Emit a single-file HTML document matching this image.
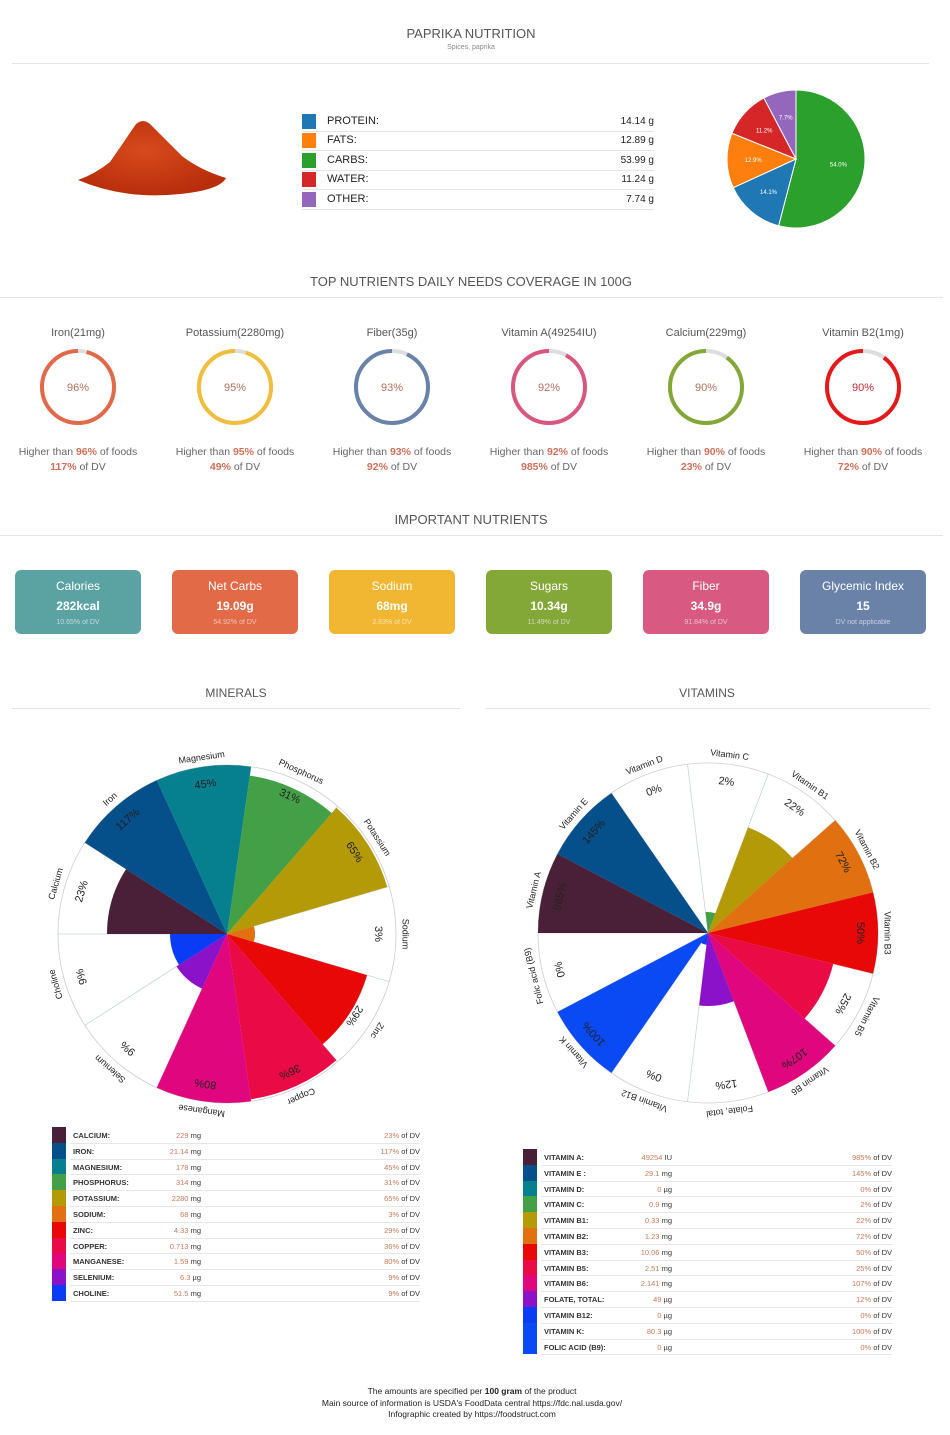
<!DOCTYPE html>
<html><head><meta charset="utf-8"><style>
body{margin:0;width:950px;height:1435px;background:#fff;font-family:"Liberation Sans",sans-serif;position:relative;overflow:hidden;color:#444}
.a{position:absolute}
.c{position:absolute;transform:translateX(-50%);white-space:nowrap;text-align:center}
.hl{position:absolute;height:1px;background:#e4e4e4}
.box{position:absolute;width:126px;height:64px;border-radius:6px;color:#fff;text-align:center;top:570px}
.box .t{font-size:12px;margin-top:9px}
.box .v{font-size:12px;margin-top:6px;font-weight:bold}
.box .s{font-size:7px;margin-top:6px;opacity:.6}
.tb{position:absolute;font-size:7.5px;color:#333;white-space:nowrap}
.tb .r{position:absolute;height:15.8px;border-bottom:1px solid #e6e6e6}
.tb .sw{position:absolute;width:14px;height:15.8px}
.tb .n{position:absolute;top:4px;font-weight:bold;white-space:nowrap}
.tb .q{position:absolute;top:4px;text-align:right;white-space:nowrap}
.o{color:#c87a5a}
</style></head><body>
<div class="c" style="left:471px;top:26px;font-size:13px;color:#555">PAPRIKA NUTRITION</div>
<div class="c" style="left:471px;top:44px;font-size:7px;color:#888">Spices, paprika</div>
<div class="hl" style="left:12px;top:63px;width:917px"></div>
<svg class="a" style="left:70px;top:110px" width="170" height="100">
<defs><radialGradient id="pg" cx="0.45" cy="0.4" r="0.6"><stop offset="0" stop-color="#d84a1c"/><stop offset="1" stop-color="#b82e0c"/></radialGradient></defs>
<path d="M8 70 Q25 64 40 52 L66 14 Q73 8 80 14 L112 46 Q130 60 156 68 Q150 80 110 84 Q55 90 8 70Z" fill="url(#pg)"/>
</svg>
<div id="macro"></div>
<svg class="a" style="left:720px;top:83px" width="152" height="152" id="pie"></svg>
<div class="c" style="left:471px;top:274px;font-size:13px;color:#555">TOP NUTRIENTS DAILY NEEDS COVERAGE IN 100G</div>
<div class="hl" style="left:0;top:297px;width:943px"></div>
<div id="rings"></div>
<div class="c" style="left:471px;top:512px;font-size:13px;color:#555">IMPORTANT NUTRIENTS</div>
<div class="hl" style="left:0;top:535px;width:943px"></div>
<div class="box" style="left:15px;background:#5ba3a3"><div class="t">Calories</div><div class="v">282kcal</div><div class="s">10.65% of DV</div></div>
<div class="box" style="left:172px;background:#e36a47"><div class="t">Net Carbs</div><div class="v">19.09g</div><div class="s">54.92% of DV</div></div>
<div class="box" style="left:329px;background:#f2b732"><div class="t">Sodium</div><div class="v">68mg</div><div class="s">2.83% of DV</div></div>
<div class="box" style="left:486px;background:#84a838"><div class="t">Sugars</div><div class="v">10.34g</div><div class="s">11.49% of DV</div></div>
<div class="box" style="left:643px;background:#d85a82"><div class="t">Fiber</div><div class="v">34.9g</div><div class="s">91.84% of DV</div></div>
<div class="box" style="left:800px;background:#6a82a8"><div class="t">Glycemic Index</div><div class="v">15</div><div class="s">DV not applicable</div></div>
<div class="c" style="left:236px;top:686px;font-size:12px;color:#555">MINERALS</div>
<div class="hl" style="left:12px;top:708px;width:448px"></div>
<div class="c" style="left:707px;top:686px;font-size:12px;color:#555">VITAMINS</div>
<div class="hl" style="left:485px;top:708px;width:445px"></div>
<svg class="a" style="left:0;top:720px" width="950" height="410" id="polar"></svg>
<div id="tabs"></div>
<div class="c" style="left:472px;top:1386px;font-size:8.5px;color:#222;line-height:11.5px">The amounts are specified per <b>100 gram</b> of the product<br>Main source of information is USDA's FoodData central https://fdc.nal.usda.gov/<br>Infographic created by https://foodstruct.com</div>
<script>
var h='';
[['PROTEIN:','14.14 g','#1f77b4'],['FATS:','12.89 g','#ff7f0e'],['CARBS:','53.99 g','#2ca02c'],['WATER:','11.24 g','#d62728'],['OTHER:','7.74 g','#9467bd']].forEach(function(r,i){
var y=114+i*19.4;
h+='<div class="a" style="left:302px;top:'+y+'px;width:14px;height:15px;background:'+r[2]+'"></div>';
h+='<div class="a" style="left:327px;top:'+(y+1)+'px;font-size:11px;color:#222">'+r[0]+'</div>';
h+='<div class="a" style="left:560px;width:94px;text-align:right;top:'+(y+2)+'px;font-size:10px;color:#222">'+r[1]+'</div>';
h+='<div class="hl" style="left:302px;top:'+(y+17)+'px;width:352px"></div>';});
document.getElementById('macro').innerHTML=h;
var p='',a0=0,cx=76,cy=76,R=69;
[[54.0,'#2ca02c'],[14.1,'#1f77b4'],[12.9,'#ff7f0e'],[11.2,'#d62728'],[7.7,'#9467bd']].forEach(function(s){
var a1=a0+s[0]/99.9*360;function pt(a,r){a=(a-90)*Math.PI/180;return [cx+r*Math.cos(a),cy+r*Math.sin(a)]}
var A=pt(a0,R),B=pt(a1,R),M=pt((a0+a1)/2,R*0.62);
p+='<path d="M'+cx+' '+cy+'L'+A+'A'+R+' '+R+' 0 '+((a1-a0)>180?1:0)+' 1 '+B+'Z" fill="'+s[1]+'" stroke="#fff" stroke-width="1"/>';
p+='<text x="'+M[0]+'" y="'+(M[1]+2)+'" font-size="6" fill="#fff" text-anchor="middle">'+s[0].toFixed(1)+'%</text>';a0=a1;});
document.getElementById('pie').innerHTML=p;
h='';
[['Iron(21mg)',96,'117%','#e06a4a'],['Potassium(2280mg)',95,'49%','#f0be3c'],['Fiber(35g)',93,'92%','#6a82a8'],['Vitamin A(49254IU)',92,'985%','#d9577f'],['Calcium(229mg)',90,'23%','#84a838'],['Vitamin B2(1mg)',90,'72%','#e31a1a']].forEach(function(r,i){
var x=78+i*157,C=2*Math.PI*36;
h+='<div class="c" style="left:'+x+'px;top:327px;font-size:11px;color:#555">'+r[0]+'</div>';
h+='<svg class="a" style="left:'+(x-40)+'px;top:347px" width="80" height="80"><circle cx="40" cy="40" r="36" fill="none" stroke="#ddd" stroke-width="4"/><circle cx="40" cy="40" r="36" fill="none" stroke="'+r[3]+'" stroke-width="4" stroke-dasharray="'+(C*r[1]/100)+' '+C+'" transform="rotate(-90 40 40) scale(1 -1) translate(0 -80)"/><text x="40" y="44" text-anchor="middle" font-size="11" fill="'+(i==5?'#c23':'#b0705a')+'">'+r[1]+'%</text></svg>';
h+='<div class="c" style="left:'+x+'px;top:446px;font-size:10.5px;color:#666">Higher than <b style="color:#d0705a">'+r[1]+'%</b> of foods</div>';
h+='<div class="c" style="left:'+x+'px;top:461px;font-size:10.5px;color:#666"><b style="color:#d0705a">'+r[2]+'</b> of DV</div>';});
document.getElementById('rings').innerHTML=h;
var s='';
function polar(cx,cy,R,start,items){
var n=items.length,st=360/n;
s+='<circle cx="'+cx+'" cy="'+cy+'" r="'+R+'" fill="none" stroke="#ccc" stroke-width="0.8"/>';
items.forEach(function(it,i){var a0=start-i*st;
function pt(a,r){a=a*Math.PI/180;return [cx+r*Math.cos(a),cy-r*Math.sin(a)]}
var E=pt(a0,R);s+='<line x1="'+cx+'" y1="'+cy+'" x2="'+E[0]+'" y2="'+E[1]+'" stroke="#c8d4d4" stroke-width="0.8"/>';});
items.forEach(function(it,i){var a0=start-i*st,a1=a0-st,r=it[2];
function pt(a,r){a=a*Math.PI/180;return [cx+r*Math.cos(a),cy-r*Math.sin(a)]}
if(r>0){var A=pt(a0,r),B=pt(a1,r);s+='<path d="M'+cx+' '+cy+'L'+A+'A'+r+' '+r+' 0 0 1 '+B+'Z" fill="'+it[3]+'"/>';}
var m=(a0+a1)/2,rot=90-m,L=pt(m,R+9),P=pt(m,R-18);
s+='<text x="'+L[0]+'" y="'+L[1]+'" font-size="9" fill="#222" text-anchor="middle" dominant-baseline="middle" transform="rotate('+rot+' '+L[0]+' '+L[1]+')">'+it[0]+'</text>';
s+='<text x="'+P[0]+'" y="'+P[1]+'" font-size="11" fill="#222" text-anchor="middle" dominant-baseline="middle" transform="rotate('+rot+' '+P[0]+' '+P[1]+')">'+it[1]+'</text>';});}
polar(227,214,169,180,[['Calcium','23%',120,'#4a2038'],['Iron','117%',169,'#054f8a'],['Magnesium','45%',169,'#06808f'],['Phosphorus','31%',160,'#43a047'],['Potassium','65%',167,'#b59a08'],['Sodium','3%',28,'#e07010'],['Zinc','29%',146,'#e80808'],['Copper','36%',167,'#ea0a45'],['Manganese','80%',169,'#e0067e'],['Selenium','9%',60,'#8b12c8'],['Choline','9%',57,'#0a3cf5']]);
polar(708,213,170,180,[['Vitamin A','985%',170,'#4a2038'],['Vitamin E','145%',170,'#054f8a'],['Vitamin D','0%',0,'#06808f'],['Vitamin C','2%',21,'#43a047'],['Vitamin B1','22%',113,'#b59a08'],['Vitamin B2','72%',170,'#e07010'],['Vitamin B3','50%',170,'#e80808'],['Vitamin B5','25%',129,'#ea0a45'],['Vitamin B6','107%',170,'#e0067e'],['Folate, total','12%',73,'#8b12c8'],['Vitamin B12','0%',12,'#0a3cf5'],['Vitamin K','100%',170,'#0a4af5'],['Folic acid (B9)','0%',0,'#0a4af5']]);
document.getElementById('polar').innerHTML=s;
h='';
function tab(x0,y0,vx,dx,rows){rows.forEach(function(r,i){var y=y0+i*15.8;
h+='<div class="tb" style="left:0;top:0"><div class="sw" style="left:'+x0+'px;top:'+y+'px;background:'+r[3]+'"></div><div class="r" style="left:'+(x0+18)+'px;top:'+y+'px;width:'+(dx-x0-18)+'px"></div><div class="n" style="left:'+(x0+21)+'px;top:'+(y+4)+'px">'+r[0]+'</div><div class="q" style="left:'+(vx-80)+'px;width:80px;top:'+(y+4)+'px"><span class="o">'+r[1]+'</span> '+r[2]+'</div><div class="q" style="left:'+(dx-80)+'px;width:80px;top:'+(y+4)+'px"><span class="o">'+r[4]+'</span> of DV</div></div>';});}
tab(52,1127,201,420,[['CALCIUM:','229','mg','#4a2038','23%'],['IRON:','21.14','mg','#054f8a','117%'],['MAGNESIUM:','178','mg','#06808f','45%'],['PHOSPHORUS:','314','mg','#43a047','31%'],['POTASSIUM:','2280','mg','#b59a08','65%'],['SODIUM:','68','mg','#e07010','3%'],['ZINC:','4.33','mg','#e80808','29%'],['COPPER:','0.713','mg','#ea0a45','36%'],['MANGANESE:','1.59','mg','#e0067e','80%'],['SELENIUM:','6.3','µg','#8b12c8','9%'],['CHOLINE:','51.5','mg','#0a3cf5','9%']]);
tab(523,1149,672,892,[['VITAMIN A:','49254','IU','#4a2038','985%'],['VITAMIN E :','29.1','mg','#054f8a','145%'],['VITAMIN D:','0','µg','#06808f','0%'],['VITAMIN C:','0.9','mg','#43a047','2%'],['VITAMIN B1:','0.33','mg','#b59a08','22%'],['VITAMIN B2:','1.23','mg','#e07010','72%'],['VITAMIN B3:','10.06','mg','#e80808','50%'],['VITAMIN B5:','2.51','mg','#ea0a45','25%'],['VITAMIN B6:','2.141','mg','#e0067e','107%'],['FOLATE, TOTAL:','49','µg','#8b12c8','12%'],['VITAMIN B12:','0','µg','#0a3cf5','0%'],['VITAMIN K:','80.3','µg','#0a4af5','100%'],['FOLIC ACID (B9):','0','µg','#0a4af5','0%']]);
document.getElementById('tabs').innerHTML=h;
</script>
</body></html>
